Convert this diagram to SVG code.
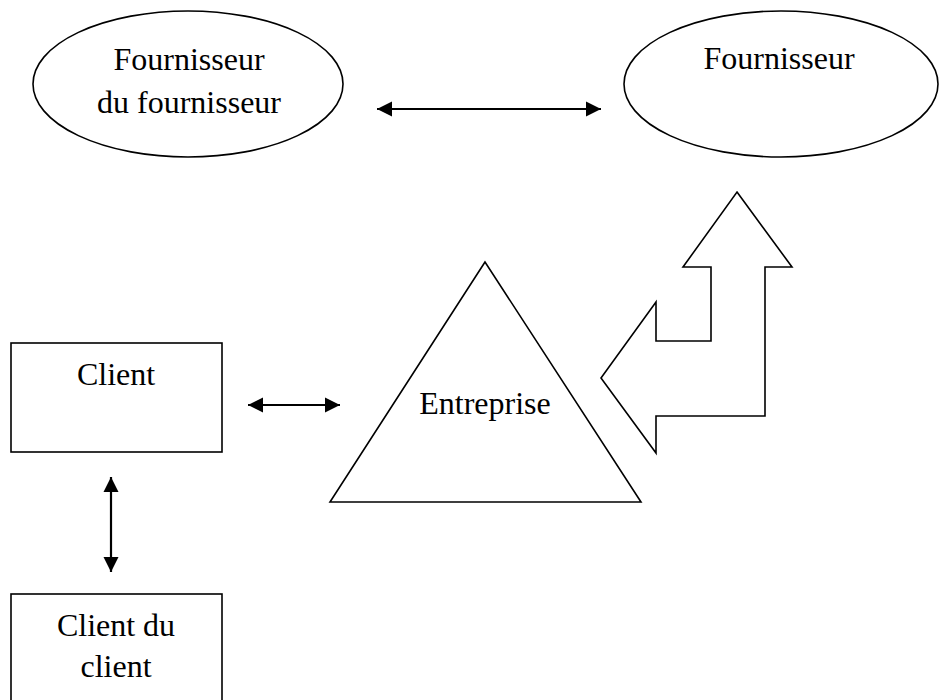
<svg xmlns="http://www.w3.org/2000/svg" width="950" height="700" viewBox="0 0 950 700">
<style>
.shape{fill:#fff;stroke:#000;stroke-width:1.6}
.lbl{font-family:"Liberation Serif","Times New Roman",serif;font-size:32px;fill:#000;text-anchor:middle}
.conn{stroke:#000;stroke-width:2.2;fill:none}
</style>
<defs>
<marker id="ah" viewBox="0 0 10 10" refX="10" refY="5" markerWidth="7" markerHeight="7" orient="auto-start-reverse" markerUnits="strokeWidth">
<path d="M0,0 L10,5 L0,10 z" fill="#000"/>
</marker>
</defs>
<rect width="950" height="700" fill="#fff"/>
<g id="fournisseur-du-fournisseur">
<ellipse class="shape" cx="188" cy="84" rx="155" ry="73"/>
<text class="lbl" x="189" y="70">Fournisseur</text>
<text class="lbl" x="189" y="113">du fournisseur</text>
</g>
<g id="fournisseur">
<ellipse class="shape" cx="781" cy="84" rx="157" ry="73"/>
<text class="lbl" x="779" y="69">Fournisseur</text>
</g>
<g id="client">
<rect class="shape" x="11" y="343" width="211" height="109"/>
<text class="lbl" x="116" y="385">Client</text>
</g>
<g id="client-du-client">
<rect class="shape" x="11" y="594" width="211" height="120"/>
<text class="lbl" x="116" y="636">Client du</text>
<text class="lbl" x="116" y="677">client</text>
</g>
<g id="entreprise">
<polygon class="shape" points="485,262 330,502 641,502"/>
<text class="lbl" x="485" y="414">Entreprise</text>
</g>
<g id="fleche-coudee">
<polygon class="shape" points="737,192 792,267 765,267 765,416 656,416 656,453 601,378 656,302 656,341 711,341 711,267 683,267"/>
</g>
<g id="connectors">
<line class="conn" x1="377" y1="109" x2="601" y2="109" marker-start="url(#ah)" marker-end="url(#ah)"/>
<line class="conn" x1="248" y1="405" x2="340" y2="405" marker-start="url(#ah)" marker-end="url(#ah)"/>
<line class="conn" x1="111" y1="477" x2="111" y2="572" marker-start="url(#ah)" marker-end="url(#ah)"/>
</g>
</svg>
